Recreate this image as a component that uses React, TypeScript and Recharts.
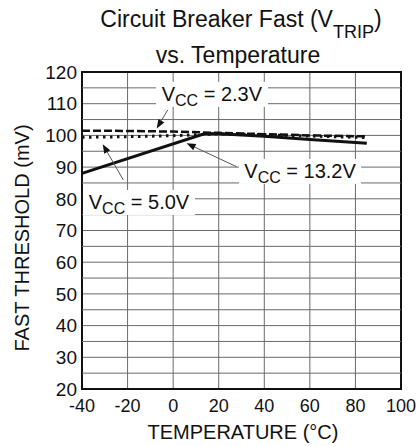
import React from 'react';
import { LineChart, Line, XAxis, YAxis, CartesianGrid, ReferenceLine, ReferenceDot, ReferenceArea } from 'recharts';

// Temperature (°C) vs fast threshold (mV)
const vcc23Temp = [-40, -20, 0, 20, 40, 60, 85];
const vcc23 = [101.5, 101.4, 101.2, 100.8, 100.4, 100.0, 99.7];

const vcc50Temp = [-40, -20, 0, 20, 40, 60, 85];
const vcc50 = [99.4, 99.6, 99.9, 100.5, 100.2, 99.8, 99.3];

const vcc132Temp = [-40, 14, 20, 40, 60, 85];
const vcc132 = [88.0, 100.6, 100.5, 99.7, 98.7, 97.5];

const xTicks = [-40, -20, 0, 20, 40, 60, 80, 100];
const yTicks = [20, 30, 40, 50, 60, 70, 80, 90, 100, 110, 120];
const yMinor = [25, 35, 45, 55, 65, 75, 85, 95, 105, 115];

const toPoints = (t: number[], v: number[]) => t.map((temp, i) => ({ temp, mv: v[i] }));

// callout labels and their arrows, in data coordinates
const callouts = [
  { sub: '2.3V', x: 17, y: 113.1, w: 112, from: { x: -2.4, y: 108 }, to: { x: -7.2, y: 102.2 } },
  { sub: '13.2V', x: 55.7, y: 88.8, w: 122, from: { x: 27.9, y: 90.1 }, to: { x: 5.9, y: 97.5 } },
  { sub: '5.0V', x: -15, y: 79, w: 112, from: { x: -21.9, y: 86 }, to: { x: -30.9, y: 97.2 } },
];

const FONT = '"Liberation Sans", Arial, sans-serif';
const GRID = '#6a6a6a';

function Arrow(p: any) {
  const { x1, y1, x2, y2 } = p;
  const dx = x2 - x1;
  const dy = y2 - y1;
  const len = Math.hypot(dx, dy) || 1;
  const ux = dx / len;
  const uy = dy / len;
  const hl = 9;
  const hw = 3.5;
  const bx = x2 - ux * hl;
  const by = y2 - uy * hl;
  return (
    <g>
      <line x1={x1} y1={y1} x2={bx} y2={by} stroke="#555" strokeWidth={1} />
      <polygon
        points={`${x2},${y2} ${bx - uy * hw},${by + ux * hw} ${bx + uy * hw},${by - ux * hw}`}
        fill="#111"
      />
    </g>
  );
}

function Label({ cx, cy, sub, w }: any) {
  return (
    <g>
      <rect x={cx - w / 2} y={cy - 12} width={w} height={25} fill="#fff" />
      <text x={cx} y={cy + 7} textAnchor="middle" fontFamily={FONT} fontSize={20} fill="#111">
        <tspan>V</tspan>
        <tspan dy={5} fontSize={16}>CC</tspan>
        <tspan dy={-5}>{` = ${sub}`}</tspan>
      </text>
    </g>
  );
}

export default function App() {
  return (
    <div style={{ position: 'absolute', left: 0, top: 0, width: 418, height: 446, background: '#fff' }}>
      <LineChart width={418} height={446} margin={{ top: 72, right: 17, left: 0, bottom: 0 }}>
        {yMinor.map((v) => (
          <ReferenceLine key={v} y={v} stroke={GRID} strokeWidth={1} />
        ))}
        <CartesianGrid stroke={GRID} strokeWidth={1} />
        <XAxis
          type="number"
          dataKey="temp"
          domain={[-40, 100]}
          ticks={xTicks}
          height={57}
          tickLine={false}
          axisLine={false}
          tickSize={0}
          tickMargin={10}
          interval={0}
          tick={{ fill: '#111', fontSize: 18, fontFamily: FONT }}
          allowDuplicatedCategory={false}
        />
        <YAxis
          type="number"
          domain={[20, 120]}
          ticks={yTicks}
          width={82}
          tickLine={false}
          axisLine={false}
          tickSize={0}
          tickMargin={5}
          interval={0}
          tick={{ fill: '#111', fontSize: 19, fontFamily: FONT }}
        />
        <ReferenceArea x1={-40} x2={100} y1={20} y2={120} fill="none" stroke="#111" strokeWidth={2} />
        <Line
          data={toPoints(vcc23Temp, vcc23)}
          dataKey="mv"
          stroke="#111"
          strokeWidth={2.5}
          strokeDasharray="8 3"
          dot={false}
          type="linear"
          isAnimationActive={false}
        />
        <Line
          data={toPoints(vcc50Temp, vcc50)}
          dataKey="mv"
          stroke="#111"
          strokeWidth={3}
          strokeDasharray="2.5 4.5"
          dot={false}
          type="linear"
          isAnimationActive={false}
        />
        <Line
          data={toPoints(vcc132Temp, vcc132)}
          dataKey="mv"
          stroke="#111"
          strokeWidth={3}
          dot={false}
          type="linear"
          isAnimationActive={false}
        />
        {callouts.map((c) => (
          <ReferenceLine key={`a${c.sub}`} segment={[c.from, c.to]} shape={Arrow} />
        ))}
        {callouts.map((c) => (
          <ReferenceDot
            key={`l${c.sub}`}
            x={c.x}
            y={c.y}
            r={0}
            shape={(p: any) => <Label cx={p.cx} cy={p.cy} sub={c.sub} w={c.w} />}
          />
        ))}
      </LineChart>
      <svg width={418} height={446} style={{ position: 'absolute', left: 0, top: 0, pointerEvents: 'none' }}>
        <text x={241} y={27} textAnchor="middle" fontFamily={FONT} fontSize={23} fill="#111">
          <tspan>Circuit Breaker Fast (V</tspan>
          <tspan dy={11} fontSize={18}>TRIP</tspan>
          <tspan dy={-11}>)</tspan>
        </text>
        <text x={238} y={63} textAnchor="middle" fontFamily={FONT} fontSize={23} fill="#111">
          vs. Temperature
        </text>
        <text x={243} y={439} textAnchor="middle" fontFamily={FONT} fontSize={20} fill="#111">
          TEMPERATURE (°C)
        </text>
        <text
          x={0}
          y={0}
          transform="translate(29 238) rotate(-90)"
          textAnchor="middle"
          fontFamily={FONT}
          fontSize={20}
          fill="#111"
        >
          FAST THRESHOLD (mV)
        </text>
      </svg>
    </div>
  );
}
